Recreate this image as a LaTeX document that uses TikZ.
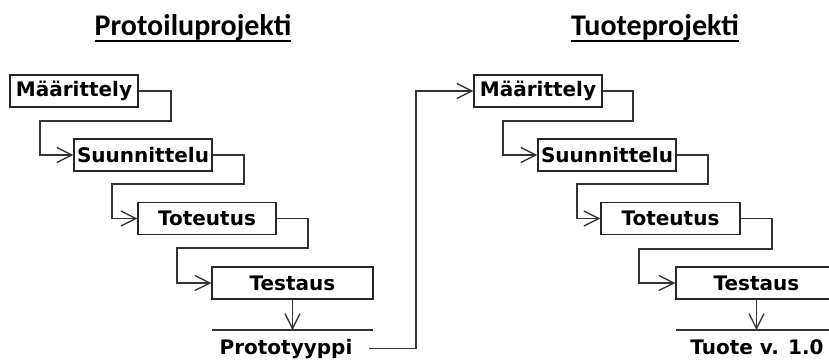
\documentclass[tikz,border=0pt]{standalone}
\usepackage{fontspec}
\setmainfont{DejaVu Sans}
\newfontfamily\titlefont{Carlito}
\usetikzlibrary{arrows.meta,calc}
\tikzset{
  x=1pt,y=-1pt,
  box/.style={draw=black!85,line width=1.4pt,minimum height=32pt,inner sep=0pt,font=\fontsize{20}{24}\selectfont\bfseries},
  res/.style={inner sep=2pt,font=\fontsize{20}{24}\selectfont\bfseries},
  ttl/.style={inner sep=0pt,font=\titlefont\fontsize{30}{36}\selectfont\bfseries},
  conn/.style={draw=black!80,line width=1.3pt},
  arr/.style={conn,-{Straight Barb[length=15pt,width=15pt]}},
}
\begin{document}
\begin{tikzpicture}
\useasboundingbox (0,0) rectangle (829,360);
\clip (0,0) rectangle (829,360);
% titles
\node[ttl,anchor=base] (t1) at (193,35) {Protoiluprojekti};
\node[ttl,anchor=base] (t2) at (655,35) {Tuoteprojekti};
\draw[line width=2.2pt] ($(t1.base west)+(0,6)$) -- ($(t1.base east)+(0,6)$);
\draw[line width=2.2pt] ($(t2.base west)+(0,6)$) -- ($(t2.base east)+(0,6)$);
% left column
\node[box,minimum width=128pt] (b1) at (74,91) {Määrittely};
\node[box,minimum width=138pt] (b2) at (143,155) {Suunnittelu};
\node[box,minimum width=138pt] (b3) at (207,218.5) {Toteutus};
\node[box,minimum width=161pt] (b4) at (292.5,283) {Testaus};
\coordinate (l1a) at (212,330);
\coordinate (l1b) at (373,330);
\coordinate (p1) at (292.5,330);
\node[res,anchor=base] (proto) at (286,354) {Prototyyppi};
% right column
\node[box,minimum width=128pt] (b5) at (538,91) {Määrittely};
\node[box,minimum width=138pt] (b6) at (607,155) {Suunnittelu};
\node[box,minimum width=139pt] (b7) at (670.5,218.5) {Toteutus};
\node[box,minimum width=161pt] (b8) at (756.5,283) {Testaus};
\coordinate (l2a) at (676,330);
\coordinate (l2b) at (829,330);
\coordinate (p2) at (756.5,330);
\node[res,anchor=base] (tuote) at (757,354) {Tuote v. 1.0};
% connectors left
\draw[arr] (b1.east) -| (171,121) -| (40,155) -- (b2.west);
\draw[arr] (b2.east) -| (244,184) -| (112,218.5) -- (b3.west);
\draw[arr] (b3.east) -| (308,248) -| (177,283) -- (b4.west);
\draw[arr] (b4.south) -- (p1);
\draw[conn] (l1a) -- (l1b);
\draw[arr] ($(proto.east)+(14,0)$) -| (416,91) -- (b5.west);
% connectors right
\draw[arr] (b5.east) -| (633,121) -| (503,155) -- (b6.west);
\draw[arr] (b6.east) -| (708,184) -| (577,218.5) -- (b7.west);
\draw[arr] (b7.east) -| (772,249) -| (639,283) -- (b8.west);
\draw[arr] (b8.south) -- (p2);
\draw[conn] (l2a) -- (l2b);
\end{tikzpicture}
\end{document}
